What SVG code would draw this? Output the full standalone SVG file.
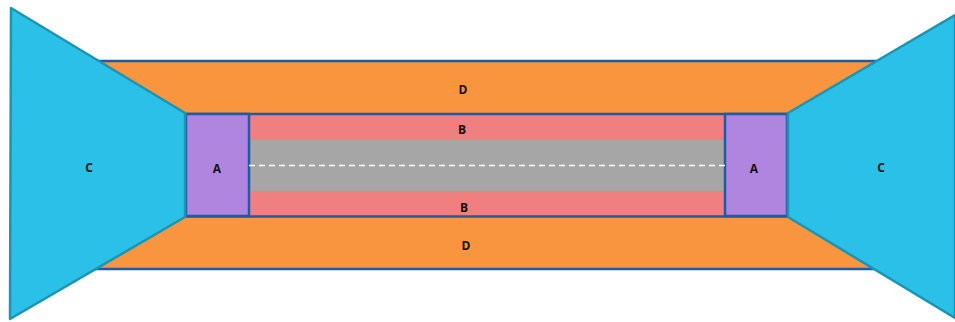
<svg xmlns="http://www.w3.org/2000/svg" width="955" height="322" viewBox="0 0 955 322">
<style>
.lbl{font-family:"Open Sans","Liberation Sans",sans-serif;font-weight:bold;font-size:12px;fill:#111;text-anchor:middle;dominant-baseline:central}
.c{fill:#2bc0e8;stroke:#1c94b3;stroke-width:2.5;stroke-linejoin:round}
.bd{stroke:#1f5aa8;stroke-width:2.5}
</style>
<g id="D">
<rect x="80" y="61" width="810" height="208" fill="#f9953f" class="bd"/>
</g>
<g id="core">
<rect x="249" y="115" width="476" height="101" fill="#f08080"/>
<rect x="249" y="140" width="476" height="51" fill="#a6a6a6"/>
<line x1="186" y1="114" x2="788" y2="114" class="bd"/>
<line x1="186" y1="216.5" x2="788" y2="216.5" class="bd"/>
</g>
<g id="A-left"><rect x="186" y="114" width="63" height="102" fill="#b085e0" class="bd"/></g>
<g id="A-right"><rect x="725" y="114" width="62" height="102" fill="#b085e0" class="bd"/></g>
<g id="connectors">
<line x1="249" y1="165.5" x2="725" y2="165.5" stroke="#ffffff" stroke-width="1.5" stroke-dasharray="6,4"/>
</g>
<g id="C-left"><polygon class="c" points="11,8 185,113 185,217 10,319"/></g>
<g id="C-right"><polygon class="c" points="955,15 788,113 788,217 955,318"/></g>
<g id="labels">
<text class="lbl" x="463" y="89">D</text>
<text class="lbl" x="462" y="129">B</text>
<text class="lbl" x="464" y="207">B</text>
<text class="lbl" x="466" y="245">D</text>
<text class="lbl" x="217" y="168">A</text>
<text class="lbl" x="754" y="168">A</text>
<text class="lbl" x="89" y="167">C</text>
<text class="lbl" x="881" y="167">C</text>
</g>
</svg>
